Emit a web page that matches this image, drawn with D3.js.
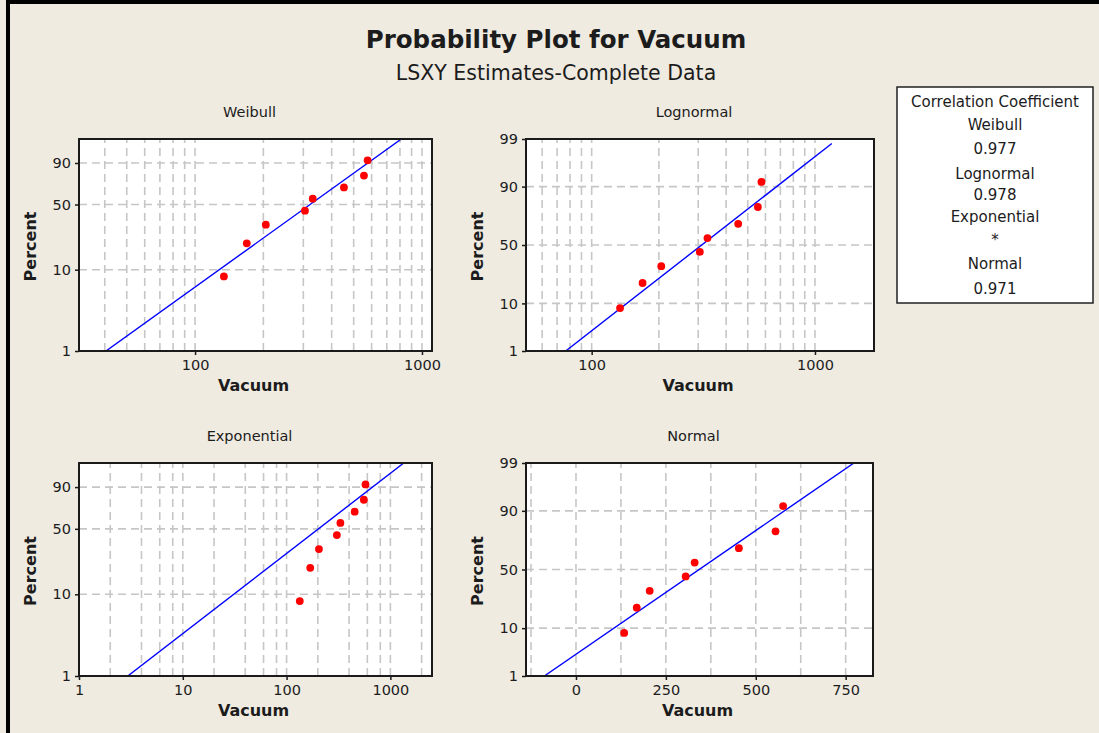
<!DOCTYPE html>
<html><head><meta charset="utf-8">
<script src="https://cdn.jsdelivr.net/npm/d3@7"></script>
<style>
html,body{margin:0;padding:0;background:#EFEBE1;}
svg{display:block;}
text{font-family:"DejaVu Sans",Verdana,sans-serif;fill:#1c1c1c;}
</style></head><body>
<svg id="chart" width="1099" height="733"></svg>
<script>
// ---------------- DATA ----------------
const vacuum  = [134, 169, 205, 305, 330, 453, 555, 576];
const percent = [8.3, 20.2, 32.1, 44.0, 56.0, 67.9, 79.8, 91.7];

const panelNames = ["Weibull", "Lognormal", "Exponential", "Normal"];
const corrTitle = "Correlation Coefficient";
const corrValues = ["0.977", "0.978", "*", "0.971"];

// fitted LSXY lines: endpoints [vacuum, percent]
const weibullFit     = [[40.5, 1], [811, 99]];
const lognormalFit   = [[76.5, 1], [1190, 98.7]];
const exponentialFit = [[2.95, 1], [1345, 99]];
const normalFit      = [[-88, 1], [773, 99]];

// axis domains / ticks
const weibullXDomain     = [30.8, 1107];
const lognormalXDomain   = [50.8, 1838];
const exponentialXDomain = [1, 2518];
const normalXDomain      = [-139, 826];
const yDomain = [1, 99];

const weibullXTicks     = [100, 1000];
const lognormalXTicks   = [100, 1000];
const exponentialXTicks = [1, 10, 100, 1000];
const normalXTicks      = [0, 250, 500, 750];

const weibullXGrid     = [40, 50, 60, 70, 80, 90, 100, 200, 300, 400, 500, 600, 700, 800, 900, 1000];
const lognormalXGrid   = [60, 70, 80, 90, 100, 200, 300, 400, 500, 600, 700, 800, 900, 1000];
const exponentialXGrid = [2, 4, 6, 8, 10, 20, 40, 60, 80, 100, 200, 400, 600, 800, 1000, 2000];
const normalXGrid      = [-125, 0, 125, 250, 375, 500, 625, 750];

const weibullYTicks     = [1, 10, 50, 90];
const lognormalYTicks   = [1, 10, 50, 90, 99];
const exponentialYTicks = [1, 10, 50, 90];
const normalYTicks      = [1, 10, 50, 90, 99];
const yGrid = [10, 50, 90];

// ---------------- TRANSFORMS ----------------
function probit(p) { // Acklam inverse normal CDF
  const a=[-3.969683028665376e+01,2.209460984245205e+02,-2.759285104469687e+02,1.383577518672690e+02,-3.066479806614716e+01,2.506628277459239e+00];
  const b=[-5.447609879822406e+01,1.615858368580409e+02,-1.556989798598866e+02,6.680131188771972e+01,-1.328068155288572e+01];
  const c=[-7.784894002430293e-03,-3.223964580411365e-01,-2.400758277161838e+00,-2.549732539343734e+00,4.374664141464968e+00,2.938163982698783e+00];
  const d=[7.784695709041462e-03,3.224671290700398e-01,2.445134137142996e+00,3.754408661907416e+00];
  const pl=0.02425, ph=1-pl; let q,r;
  if (p<pl){q=Math.sqrt(-2*Math.log(p));return (((((c[0]*q+c[1])*q+c[2])*q+c[3])*q+c[4])*q+c[5])/((((d[0]*q+d[1])*q+d[2])*q+d[3])*q+1);}
  if (p<=ph){q=p-0.5;r=q*q;return (((((a[0]*r+a[1])*r+a[2])*r+a[3])*r+a[4])*r+a[5])*q/(((((b[0]*r+b[1])*r+b[2])*r+b[3])*r+b[4])*r+1);}
  q=Math.sqrt(-2*Math.log(1-p));return -(((((c[0]*q+c[1])*q+c[2])*q+c[3])*q+c[4])*q+c[5])/((((d[0]*q+d[1])*q+d[2])*q+d[3])*q+1);
}
const weibullT = p => Math.log(-Math.log(1 - p / 100));
const normalT  = p => probit(p / 100);

// ---------------- LAYOUT ----------------
const svg = d3.select("#chart");
svg.append("rect").attr("width",1099).attr("height",733).attr("fill","#EFEBE1");
svg.append("rect").attr("x",6).attr("y",0).attr("width",4).attr("height",733).attr("fill","#000");
svg.append("rect").attr("x",6).attr("y",0).attr("width",1093).attr("height",4).attr("fill","#000");

svg.append("text").attr("x",556).attr("y",48).attr("text-anchor","middle")
  .style("font-weight","bold").style("font-size","24.5px").text("Probability Plot for Vacuum");
svg.append("text").attr("x",556).attr("y",80).attr("text-anchor","middle")
  .style("font-size","20.5px").text("LSXY Estimates-Complete Data");

const panels = [
  {name: panelNames[0], box:[79,432,139,351], xType:"log", xDomain:weibullXDomain, xTicks:weibullXTicks, xGrid:weibullXGrid, yT:weibullT, yTicks:weibullYTicks, fit:weibullFit},
  {name: panelNames[1], box:[526,874,139,351], xType:"log", xDomain:lognormalXDomain, xTicks:lognormalXTicks, xGrid:lognormalXGrid, yT:normalT, yTicks:lognormalYTicks, fit:lognormalFit},
  {name: panelNames[2], box:[79,432,463,676], xType:"log", xDomain:exponentialXDomain, xTicks:exponentialXTicks, xGrid:exponentialXGrid, yT:weibullT, yTicks:exponentialYTicks, fit:exponentialFit},
  {name: panelNames[3], box:[526,873,463,676], xType:"lin", xDomain:normalXDomain, xTicks:normalXTicks, xGrid:normalXGrid, yT:normalT, yTicks:normalYTicks, fit:normalFit}
];

panels.forEach((P, k) => {
  const [x0,x1,y0,y1] = P.box;
  const g = svg.append("g");
  const x = (P.xType === "log" ? d3.scaleLog() : d3.scaleLinear()).domain(P.xDomain).range([x0,x1]);
  const y = d3.scaleLinear().domain(yDomain.map(P.yT)).range([y1,y0]);
  const yp = p => y(P.yT(p));

  const clipId = "clip"+k;
  svg.append("clipPath").attr("id",clipId).append("rect").attr("x",x0).attr("y",y0).attr("width",x1-x0).attr("height",y1-y0);

  g.append("rect").attr("x",x0).attr("y",y0).attr("width",x1-x0).attr("height",y1-y0).attr("fill","#fff");

  const grid = g.append("g").attr("clip-path",`url(#${clipId})`)
    .attr("stroke","#C6C6C6").attr("stroke-width",1.6).attr("stroke-dasharray","8,5").attr("fill","none");
  grid.selectAll(".vg").data(P.xGrid).join("line")
    .attr("x1",d=>x(d)).attr("x2",d=>x(d)).attr("y1",y1).attr("y2",y0);
  grid.selectAll(".hg").data(yGrid).join("line")
    .attr("y1",d=>yp(d)).attr("y2",d=>yp(d)).attr("x1",x0).attr("x2",x1);

  // fitted line
  g.append("path").datum(P.fit).attr("clip-path",`url(#${clipId})`)
    .attr("d", d3.line().x(d=>x(d[0])).y(d=>yp(d[1])))
    .attr("stroke","#0000FF").attr("stroke-width",1.4).attr("fill","none");

  // points
  g.selectAll(".pt").data(vacuum.map((v,i)=>[v,percent[i]])).join("circle")
    .attr("cx",d=>x(d[0])).attr("cy",d=>yp(d[1])).attr("r",3.9).attr("fill","#FF0000");

  // frame
  g.append("rect").attr("x",x0).attr("y",y0).attr("width",x1-x0).attr("height",y1-y0)
    .attr("fill","none").attr("stroke","#1a1a1a").attr("stroke-width",2);

  // axes
  const fmt = d3.format("d");
  const xAxis = d3.axisBottom(x).tickValues(P.xTicks).tickFormat(fmt).tickSize(4).tickPadding(5);
  const ax = g.append("g").attr("transform",`translate(0,${y1})`).call(xAxis);
  const yTickPos = P.yTicks.map(P.yT);
  const yAxis = d3.axisLeft(y).tickValues(yTickPos)
    .tickFormat(d => P.yTicks[yTickPos.indexOf(d)]).tickSize(4).tickPadding(4);
  const ay = g.append("g").attr("transform",`translate(${x0},0)`).call(yAxis);
  [ax, ay].forEach(a => {
    a.select(".domain").remove();
    a.selectAll(".tick line").attr("stroke","#1a1a1a").attr("stroke-width",1.5);
    a.selectAll(".tick text").style("font-size","14.5px").style("font-family","'DejaVu Sans',sans-serif").attr("fill","#1c1c1c");
  });

  // labels
  g.append("text").attr("x",(x0+x1)/2-6).attr("y",y0-27).attr("dy","0.35em")
    .attr("text-anchor","middle").style("font-size","14.5px").text(P.name);
  g.append("text").attr("x",(x0+x1)/2-2).attr("y",y1+34.5).attr("dy","0.35em")
    .attr("text-anchor","middle").style("font-size","16px").style("font-weight","bold").text("Vacuum");
  g.append("text").attr("transform",`translate(${x0-49},${(y0+y1)/2+1.5}) rotate(-90)`).attr("dy","0.35em")
    .attr("text-anchor","middle").style("font-size","16px").style("font-weight","bold").text("Percent");
});

// legend box
const lg = svg.append("g");
lg.append("rect").attr("x",897).attr("y",87).attr("width",196).attr("height",216)
  .attr("fill","#fff").attr("stroke","#222").attr("stroke-width",1.5);
const legendLines = [corrTitle];
panelNames.forEach((n,i)=>{ legendLines.push(n); legendLines.push(corrValues[i]); });
const legendY = [101.7, 125, 148.3, 173.3, 195, 216.7, 236, 263.3, 288.3];
lg.selectAll(".lt").data(legendLines).join("text")
  .attr("x",995).attr("y",(d,i)=>legendY[i]).attr("dy",(d)=>d==="*"?"0.6em":"0.35em")
  .attr("text-anchor","middle").style("font-size","15px").text(d=>d);
</script>
</body></html>
